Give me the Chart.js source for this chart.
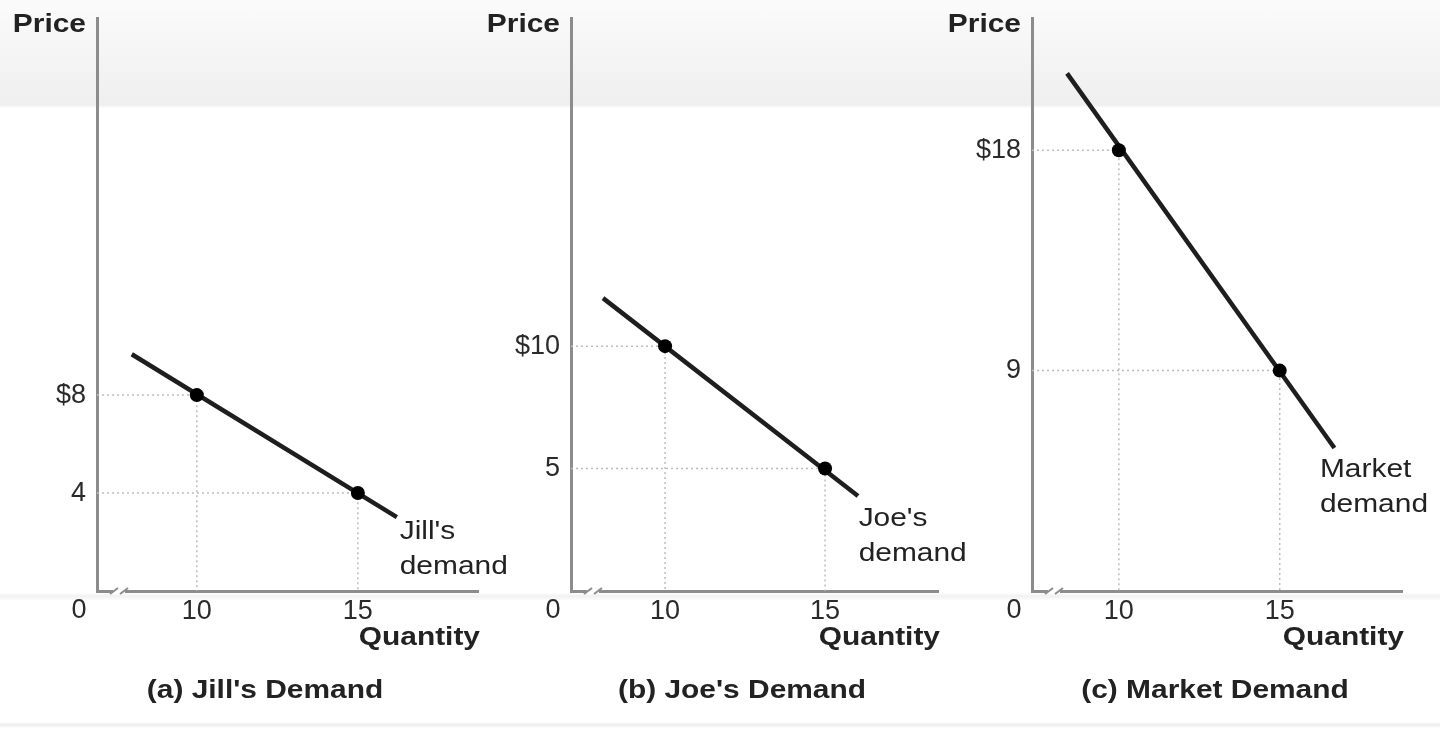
<!DOCTYPE html>
<html>
<head>
<meta charset="utf-8">
<script src="https://cdn.jsdelivr.net/npm/chart.js@4"></script>
<style>
  html, body { margin: 0; padding: 0; }
  body {
    width: 1440px; height: 731px; position: relative; overflow: hidden;
    background: linear-gradient(to bottom,
      #fbfbfb 0px, #efefef 105px, #ffffff 108px,
      #ffffff 593px, #f1f1f1 596px, #ffffff 601px,
      #ffffff 722px, #ececec 725px, #ffffff 728px);
  }
  .panel { position: absolute; top: 0; height: 731px; }
</style>
</head>
<body>
<div class="panel" style="left:0px;width:530px"><canvas id="c0"></canvas></div>
<div class="panel" style="left:470px;width:510px"><canvas id="c1"></canvas></div>
<div class="panel" style="left:940px;width:500px"><canvas id="c2"></canvas></div>
<script>
// dados
const captions = ["(a) Jill's Demand", "(b) Joe's Demand", "(c) Market Demand"];
const curveNames = [["Jill's", "demand"], ["Joe's", "demand"], ["Market", "demand"]];
const qtyTicks = [10, 15];
const pointQty = [[10, 15], [10, 15], [10, 15]];
const pointPrice = [[8, 4], [10, 5], [18, 9]];
const priceTickLabels = [["$8", "4"], ["$10", "5"], ["$18", "9"]];
const lineQty = [[7.98, 16.21], [8.06, 16.03], [8.39, 16.7]];
const linePrice = [[9.67, 3.02], [11.96, 3.88], [21.14, 5.84]];
const curveLabelQty = [16.3, 16.05, 16.25];
const curveLabelPrice = [2.4, 2.95, 4.95];

// eixos (intervalo visível de cada painel)
const xMin = [6.9, 7.06, 7.3];
const xMax = [18.73, 18.53, 18.8];
const yMax = 23.4;

// layout em pixels
const panelLeft = [0, 470, 940];
const panelWidth = [530, 510, 500];
const axisX = [97, 571, 1032];
const axisEnd = [478, 938, 1402];
const captionX = [265, 742, 1215];

const FONT = "'Liberation Sans', Arial, Helvetica, sans-serif";
const INK = '#222';

function stretchText(ctx, text, x, y, align, bold) {
    ctx.save();
    ctx.translate(x, y);
    ctx.scale(1.15, 1);
    ctx.font = (bold ? 'bold ' : '') + '26px ' + FONT;
    ctx.fillStyle = INK;
    ctx.textAlign = align;
    ctx.textBaseline = 'middle';
    ctx.fillText(text, 0, 0);
    ctx.restore();
}

const labelsPlugin = {
    id: 'labelsPlugin',
    afterDraw(chart, args, opts) {
        const i = opts.panel;
        const { ctx, chartArea: ca, scales: { x, y } } = chart;
        const off = panelLeft[i];

        // quebra do eixo horizontal
        ctx.save();
        ctx.fillStyle = '#ffffff';
        ctx.fillRect(ca.left + 16, ca.bottom - 3, 12, 6);
        ctx.strokeStyle = '#8c8c8c';
        ctx.lineWidth = 2;
        [17, 27].forEach(dx => {
            ctx.beginPath();
            ctx.moveTo(ca.left + dx - 4, ca.bottom + 3);
            ctx.lineTo(ca.left + dx + 4, ca.bottom - 3);
            ctx.stroke();
        });
        ctx.restore();

        stretchText(ctx, 'Price', ca.left - 11, 25, 'right', true);
        stretchText(ctx, 'Quantity', ca.right + 2, 638, 'right', true);
        stretchText(ctx, captions[i], captionX[i] - off, 691, 'center', true);

        ctx.save();
        ctx.font = '27px ' + FONT;
        ctx.fillStyle = '#2a2a2a';
        ctx.textAlign = 'center';
        ctx.textBaseline = 'middle';
        ctx.fillText('0', ca.left - 18, 611);
        ctx.restore();

        const lx = x.getPixelForValue(curveLabelQty[i]);
        const ly = y.getPixelForValue(curveLabelPrice[i]);
        curveNames[i].forEach((t, k) => stretchText(ctx, t, lx, ly + k * 35, 'left', false));
    }
};

for (let i = 0; i < 3; i++) {
    const pts = pointQty[i].map((q, k) => ({ x: q, y: pointPrice[i][k] }));
    const guides = pts.map(p => ({
        data: [{ x: xMin[i], y: p.y }, { x: p.x, y: p.y }, { x: p.x, y: 0 }],
        showLine: true,
        borderColor: '#bdbdbd',
        borderWidth: 1.5,
        borderDash: [2, 3],
        pointRadius: 0
    }));

    new Chart(document.getElementById('c' + i), {
        type: 'scatter',
        data: {
            datasets: [
                {
                    data: pts,
                    pointRadius: 7,
                    pointBackgroundColor: '#000',
                    pointBorderWidth: 0,
                    showLine: false
                },
                {
                    data: lineQty[i].map((q, k) => ({ x: q, y: linePrice[i][k] })),
                    showLine: true,
                    borderColor: '#1e1e1e',
                    borderWidth: 4.5,
                    pointRadius: 0
                },
                ...guides
            ]
        },
        options: {
            responsive: true,
            maintainAspectRatio: false,
            devicePixelRatio: 1,
            animation: false,
            layout: {
                padding: {
                    top: 18,
                    right: panelLeft[i] + panelWidth[i] - axisEnd[i],
                    left: 0,
                    bottom: 0
                }
            },
            plugins: {
                legend: { display: false },
                tooltip: { enabled: false },
                labelsPlugin: { panel: i }
            },
            scales: {
                x: {
                    type: 'linear',
                    min: xMin[i],
                    max: xMax[i],
                    afterBuildTicks: s => { s.ticks = qtyTicks.map(v => ({ value: v })); },
                    afterFit: s => {
                        s.height = 731 - 591;
                        s.paddingLeft = 0; s.paddingRight = 0;
                    },
                    grid: { display: false, drawTicks: false },
                    border: { display: true, color: '#8c8c8c', width: 3 },
                    ticks: {
                        padding: 4,
                        color: '#2a2a2a',
                        font: { family: FONT, size: 27 },
                        callback: v => String(v)
                    }
                },
                y: {
                    type: 'linear',
                    min: 0,
                    max: yMax,
                    afterBuildTicks: s => { s.ticks = pointPrice[i].map(v => ({ value: v })); },
                    afterFit: s => {
                        s.width = axisX[i] - panelLeft[i];
                        s.paddingTop = 0; s.paddingBottom = 0;
                    },
                    grid: { display: false, drawTicks: false },
                    border: { display: true, color: '#8c8c8c', width: 3 },
                    ticks: {
                        padding: 11,
                        color: '#2a2a2a',
                        font: { family: FONT, size: 27 },
                        callback: v => priceTickLabels[i][pointPrice[i].indexOf(v)]
                    }
                }
            }
        },
        plugins: [labelsPlugin]
    });
}
</script>
</body>
</html>
